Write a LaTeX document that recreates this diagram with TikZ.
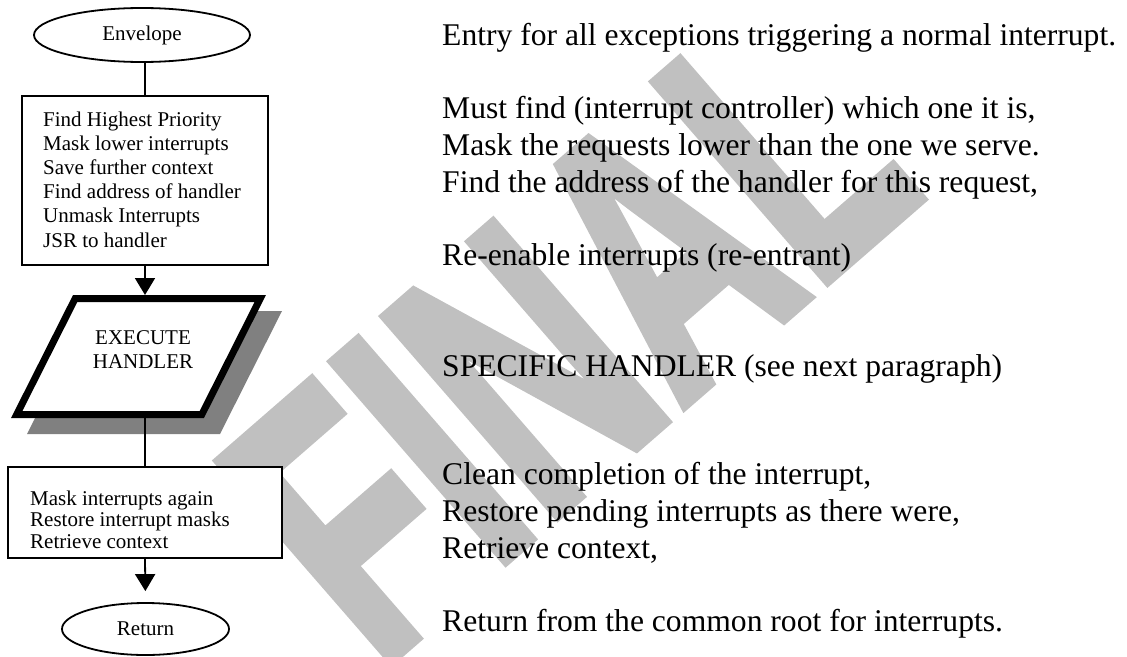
\documentclass[tikz,border=0pt]{standalone}
\usepackage{graphicx}
\usepackage{fontspec}
\setmainfont{Liberation Serif}
\newfontfamily\wmfont{Liberation Sans}[BoldFeatures={FakeBold=3}]
\usetikzlibrary{shapes.geometric,arrows.meta}
\definecolor{wmgray}{RGB}{192,192,192}
\definecolor{shadowgray}{RGB}{128,128,128}
\begin{document}
\begin{tikzpicture}[x=1pt,y=-1pt,
  boxstyle/.style={draw=black, line width=1.8pt, fill=white, rectangle, inner sep=0pt},
  ovalstyle/.style={draw=black, line width=1.8pt, fill=white, ellipse, inner sep=0pt, font=\fontsize{21}{24}\selectfont},
  boxtext/.style={anchor=base west, inner sep=0pt, font=\fontsize{21}{24}\selectfont},
  desc/.style={anchor=base west, inner sep=0pt, font=\fontsize{31.6}{37}\selectfont},
  wmstyle/.style={rotate=41, text=wmgray, inner sep=0pt, font=\wmfont\bfseries\fontsize{381}{381}\selectfont},
  conn/.style={line width=1.8pt},
  arr/.style={conn, -{Triangle[length=17pt,width=20pt]}},
]
\useasboundingbox (0,0) rectangle (1127,656);
\fill[white] (0,0) rectangle (1127,656);
% watermark
\node[wmstyle] (wm) at (567,333) {\scalebox{0.65}[1]{FINAL}};
% shadow and parallelogram
\fill[shadowgray] (89,311) -- (282,311) -- (220,434) -- (27,434) -- cycle;
\draw[line width=7pt, fill=white, line join=miter] (75.2,298.5) -- (260.3,298.5) -- (201.8,414.5) -- (16.7,414.5) -- cycle;
\coordinate (ptop) at (145,295);
\coordinate (pbot) at (145,418);
\node[inner sep=0pt, align=center, font=\fontsize{21}{24}\selectfont] (exec) at (143,350) {EXECUTE\\HANDLER};
% boxes
\node[boxstyle, minimum width=246, minimum height=169] (box1) at (145,180.5) {};
\node[boxstyle, minimum width=274, minimum height=91] (box2) at (145,512.5) {};
\node[ovalstyle, minimum width=216, minimum height=54] (env) at (142,35) {Envelope};
\node[ovalstyle, minimum width=167, minimum height=52] (ret) at (145.5,629) {Return};
% box texts
\foreach \t [count=\i] in {Find Highest Priority, Mask lower interrupts, Save further context, Find address of handler, Unmask Interrupts, JSR to handler}
  \node[boxtext] (bone\i) at (43,{126+24.2*(\i-1)}) {\t};
\foreach \t [count=\i] in {Mask interrupts again, Restore interrupt masks, Retrieve context}
  \node[boxtext] (btwo\i) at (30,{505+21.5*(\i-1)}) {\t};
% connectors
\draw[conn] (box1.north |- env.south) -- (box1.north);
\draw[arr] (box1.south) -- (ptop);
\draw[conn] (pbot) -- (box2.north);
\draw[arr, shorten >=11pt] (box2.south) -- (ret.north);
% descriptions
\node[desc] (d1) at (442,45) {Entry for all exceptions triggering a normal interrupt.};
\node[desc] (d2) at (442,118) {Must find (interrupt controller) which one it is,};
\node[desc] (d3) at (442,155) {Mask the requests lower than the one we serve.};
\node[desc] (d4) at (442,192) {Find the address of the handler for this request,};
\node[desc] (d5) at (442,265) {Re-enable interrupts (re-entrant)};
\node[desc] (d6) at (442,376) {SPECIFIC HANDLER (see next paragraph)};
\node[desc] (d7) at (442,484) {Clean completion of the interrupt,};
\node[desc] (d8) at (442,521) {Restore pending interrupts as there were,};
\node[desc] (d9) at (442,558) {Retrieve context,};
\node[desc] (d10) at (442,631) {Return from the common root for interrupts.};
\end{tikzpicture}
\end{document}
